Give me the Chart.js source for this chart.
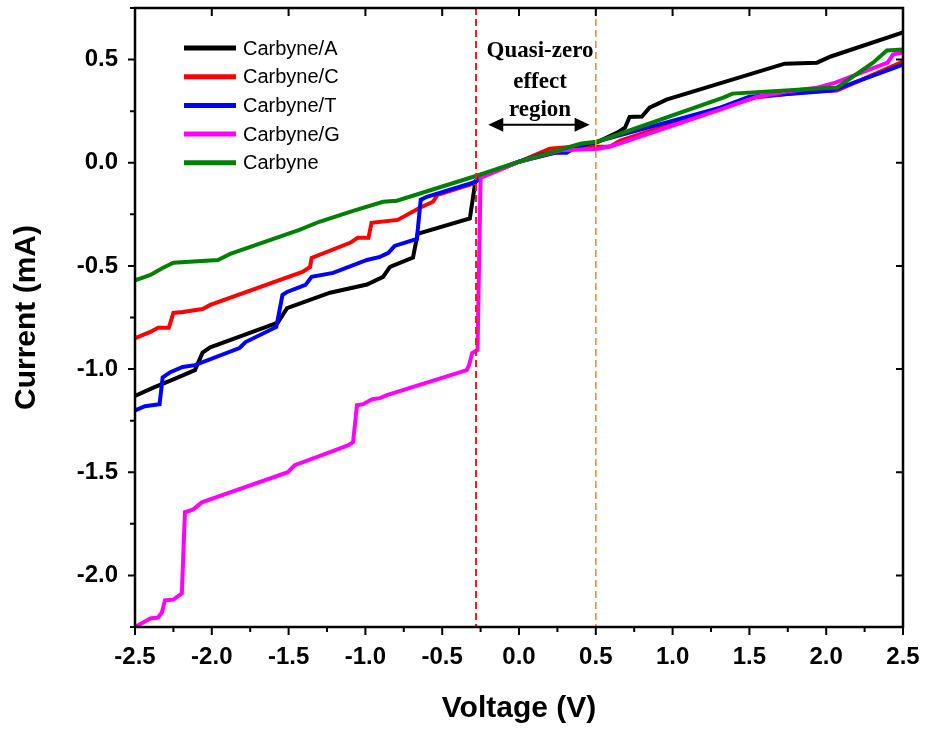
<!DOCTYPE html>
<html>
<head>
<meta charset="utf-8">
<script src="https://cdn.jsdelivr.net/npm/chart.js@4.4.1/dist/chart.umd.min.js"></script>
<style>
  html, body { margin: 0; padding: 0; background: #fff; }
</style>
</head>
<body>
<canvas id="iv" width="925" height="729"></canvas>
<script>
// I-V sweeps, voltage in V, current in mA
const labels = ["Carbyne/A", "Carbyne/C", "Carbyne/T", "Carbyne/G", "Carbyne"];
const colors = ["#000000", "#ff0000", "#0000ff", "#ff00ff", "#008000"];

const vA = [-2.5, -2.38, -2.25, -2.11, -2.06, -2.01, -1.57, -1.51, -1.23, -0.99, -0.885, -0.84, -0.69, -0.66, -0.32, -0.285, -0.25, 0.0, 0.51, 0.64, 0.69, 0.72, 0.80, 0.85, 0.96, 1.73, 1.94, 2.03, 2.5];
const iA = [-1.13, -1.09, -1.05, -1.005, -0.92, -0.895, -0.775, -0.705, -0.63, -0.59, -0.553, -0.505, -0.46, -0.345, -0.27, -0.095, -0.07, 0.005, 0.10, 0.146, 0.17, 0.222, 0.224, 0.267, 0.306, 0.48, 0.485, 0.515, 0.632];

const vC = [-2.5, -2.40, -2.35, -2.28, -2.25, -2.19, -2.06, -2.01, -1.41, -1.36, -1.35, -1.10, -1.05, -0.98, -0.96, -0.79, -0.645, -0.56, -0.53, -0.30, -0.24, 0.0, 0.20, 0.35, 0.59, 0.66, 1.31, 1.55, 1.90, 2.07, 2.5];
const iC = [-0.85, -0.82, -0.80, -0.80, -0.728, -0.723, -0.709, -0.689, -0.529, -0.505, -0.461, -0.388, -0.364, -0.364, -0.291, -0.277, -0.218, -0.189, -0.155, -0.102, -0.06, 0.005, 0.068, 0.078, 0.078, 0.107, 0.265, 0.318, 0.345, 0.35, 0.49];

const vT = [-2.5, -2.435, -2.34, -2.32, -2.27, -2.19, -2.11, -1.82, -1.78, -1.58, -1.54, -1.51, -1.39, -1.35, -1.21, -0.99, -0.905, -0.85, -0.81, -0.665, -0.64, -0.60, -0.30, -0.235, 0.0, 0.14, 0.25, 0.31, 0.365, 0.53, 1.31, 1.50, 1.88, 2.04, 2.5];
const iT = [-1.2, -1.18, -1.17, -1.04, -1.015, -0.99, -0.981, -0.898, -0.869, -0.796, -0.641, -0.626, -0.592, -0.553, -0.534, -0.471, -0.456, -0.437, -0.403, -0.369, -0.18, -0.165, -0.097, -0.065, 0.005, 0.039, 0.049, 0.049, 0.073, 0.107, 0.267, 0.32, 0.34, 0.35, 0.475];

const vG = [-2.5, -2.40, -2.35, -2.325, -2.305, -2.25, -2.195, -2.175, -2.12, -2.065, -1.505, -1.46, -1.23, -1.11, -1.08, -1.055, -1.015, -0.955, -0.905, -0.86, -0.34, -0.325, -0.305, -0.27, -0.25, 0.0, 0.27, 0.52, 0.62, 1.31, 1.55, 1.745, 1.94, 2.06, 2.40, 2.435, 2.5];
const iG = [-2.25, -2.209, -2.204, -2.18, -2.121, -2.117, -2.087, -1.694, -1.68, -1.646, -1.50, -1.466, -1.403, -1.369, -1.354, -1.175, -1.17, -1.146, -1.141, -1.126, -1.005, -0.981, -0.922, -0.908, -0.073, 0.005, 0.06, 0.068, 0.085, 0.257, 0.32, 0.345, 0.364, 0.388, 0.485, 0.524, 0.534];

const vP = [-2.5, -2.40, -2.32, -2.25, -1.96, -1.88, -1.43, -1.30, -1.08, -0.885, -0.795, -0.255, 0.0, 0.40, 0.445, 0.51, 1.33, 1.39, 2.03, 2.07, 2.305, 2.395, 2.5];
const iP = [-0.57, -0.544, -0.51, -0.485, -0.471, -0.442, -0.325, -0.286, -0.233, -0.189, -0.184, -0.058, 0.005, 0.092, 0.097, 0.102, 0.316, 0.335, 0.364, 0.364, 0.485, 0.544, 0.549];

const xTicks = [-2.5, -2.0, -1.5, -1.0, -0.5, 0.0, 0.5, 1.0, 1.5, 2.0, 2.5];
const yTicks = [-2.0, -1.5, -1.0, -0.5, 0.0, 0.5];

// boundaries of the quasi-zero region and its label
const regionLeft = -0.28;
const regionRight = 0.50;
const arrowFrom = -0.20, arrowTo = 0.46, arrowAt = 0.184;
const regionText = ["Quasi-zero", "effect", "region"];
const regionTextV = 0.137;
const regionTextI = [0.539, 0.393, 0.257];

const series = [[vA, iA], [vC, iC], [vT, iT], [vG, iG], [vP, iP]];

const datasets = series.map(([vs, is], k) => ({
  label: labels[k],
  data: vs.map((v, j) => ({ x: v, y: is[j] })),
  borderColor: colors[k],
  backgroundColor: colors[k],
  borderWidth: 4,
  pointRadius: 0,
  showLine: true,
  tension: 0,
  order: 5 - k
}));

function arrowHead(ctx, x, y, dir) {
  ctx.beginPath();
  ctx.moveTo(x, y);
  ctx.lineTo(x - dir * 15, y - 7);
  ctx.lineTo(x - dir * 15, y + 7);
  ctx.closePath();
  ctx.fill();
}

const overlay = {
  id: 'overlay',
  afterDatasetsDraw(chart) {
    const { ctx, chartArea: a, scales: { x, y } } = chart;
    ctx.save();

    // dashed region boundaries
    ctx.lineWidth = 2;
    ctx.setLineDash([7, 4]);
    ctx.strokeStyle = "#ff1a1a";
    let px = x.getPixelForValue(regionLeft);
    ctx.beginPath(); ctx.moveTo(px, a.top); ctx.lineTo(px, a.bottom); ctx.stroke();
    ctx.strokeStyle = "#f08a3e";
    ctx.lineWidth = 1.6;
    px = x.getPixelForValue(regionRight);
    ctx.beginPath(); ctx.moveTo(px, a.top); ctx.lineTo(px, a.bottom); ctx.stroke();
    ctx.setLineDash([]);

    // double arrow
    const ax0 = x.getPixelForValue(arrowFrom), ax1 = x.getPixelForValue(arrowTo);
    const ay = y.getPixelForValue(arrowAt);
    ctx.strokeStyle = "#000"; ctx.fillStyle = "#000"; ctx.lineWidth = 2;
    ctx.beginPath(); ctx.moveTo(ax0 + 10, ay); ctx.lineTo(ax1 - 10, ay); ctx.stroke();
    arrowHead(ctx, ax0, ay, -1);
    arrowHead(ctx, ax1, ay, 1);

    ctx.font = "bold 23px 'Liberation Serif', 'Times New Roman', serif";
    ctx.textAlign = "center";
    ctx.textBaseline = "middle";
    regionText.forEach((t, k) => {
      ctx.fillText(t, x.getPixelForValue(regionTextV), y.getPixelForValue(regionTextI[k]));
    });
    ctx.restore();
  },
  afterDraw(chart) {
    const { ctx, chartArea: a, scales: { x, y } } = chart;
    ctx.save();
    ctx.strokeStyle = "#000";
    ctx.lineWidth = 2.5;
    ctx.strokeRect(a.left, a.top, a.right - a.left, a.bottom - a.top);

    // tick marks: out on bottom/left, in on top/right
    ctx.lineWidth = 2;
    ctx.beginPath();
    for (let v = -2.5; v <= 2.501; v += 0.25) {
      const p = x.getPixelForValue(v);
      const major = Math.abs(v * 2 - Math.round(v * 2)) < 1e-6;
      ctx.moveTo(p, a.bottom); ctx.lineTo(p, a.bottom + (major ? 8 : 5));
      if (major) { ctx.moveTo(p, a.top); ctx.lineTo(p, a.top + 8); }
    }
    for (let v = -2.25; v <= 0.751; v += 0.25) {
      const p = y.getPixelForValue(v);
      const major = Math.abs(v * 2 - Math.round(v * 2)) < 1e-6;
      ctx.moveTo(a.left, p); ctx.lineTo(a.left - (major ? 7 : 5), p);
      if (major) { ctx.moveTo(a.right, p); ctx.lineTo(a.right - 7, p); }
    }
    ctx.stroke();

    // legend
    ctx.font = "20px 'Liberation Sans', Arial, sans-serif";
    ctx.textAlign = "left";
    ctx.textBaseline = "middle";
    ctx.lineWidth = 5;
    chart.data.datasets.forEach((ds, k) => {
      const ly = 48 + k * 28.7;
      ctx.strokeStyle = ds.borderColor;
      ctx.beginPath(); ctx.moveTo(184, ly); ctx.lineTo(236, ly); ctx.stroke();
      ctx.fillStyle = "#000";
      ctx.fillText(ds.label, 243, ly + 1);
    });
    ctx.restore();
  }
};

const tickFont = { family: "'Liberation Sans', Arial, sans-serif", size: 24, weight: 'bold' };
const titleFont = { family: "'Liberation Sans', Arial, sans-serif", size: 30, weight: 'bold' };

new Chart(document.getElementById("iv"), {
  type: "scatter",
  data: { datasets },
  options: {
    responsive: false,
    animation: false,
    devicePixelRatio: 1,
    layout: { padding: { top: 8, right: 22, left: 0, bottom: 0 } },
    plugins: { legend: { display: false }, tooltip: { enabled: false } },
    scales: {
      x: {
        type: "linear",
        min: -2.5, max: 2.5,
        afterBuildTicks: s => { s.ticks = xTicks.map(v => ({ value: v })); },
        afterFit: s => { s.height = 102; s.paddingLeft = 0; s.paddingRight = 0; },
        grid: { display: false, drawTicks: false },
        border: { display: false },
        ticks: { color: "#000", font: tickFont, padding: 16, maxRotation: 0, callback: v => v.toFixed(1) },
        title: { display: true, text: "Voltage (V)", color: "#000", font: titleFont, padding: { top: 0, bottom: 2 } }
      },
      y: {
        type: "linear",
        min: -2.25, max: 0.75,
        afterBuildTicks: s => { s.ticks = yTicks.map(v => ({ value: v })); },
        afterFit: s => { s.width = 135; s.paddingTop = 0; s.paddingBottom = 0; },
        grid: { display: false, drawTicks: false },
        border: { display: false },
        ticks: { color: "#000", font: tickFont, padding: 17, callback: v => v.toFixed(1) },
        title: { display: true, text: "Current (mA)", color: "#000", font: titleFont, padding: { top: 9, bottom: 0 } }
      }
    }
  },
  plugins: [overlay]
});
</script>
</body>
</html>
